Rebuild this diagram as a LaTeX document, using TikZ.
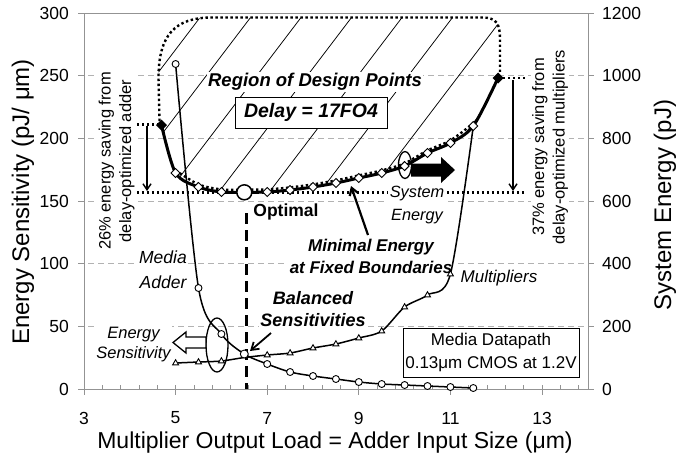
\documentclass[tikz,border=0pt]{standalone}
\usepackage{fontspec}
\setmainfont{Liberation Sans}
\usetikzlibrary{arrows.meta}
\begin{document}
\begin{tikzpicture}[x=1pt,y=-1pt,
  gridline/.style={draw=gray!60, line width=0.8pt, dash pattern=on 6pt off 4pt},
  axisline/.style={draw=gray!85, line width=0.8pt},
  dotln/.style={line width=2.4pt, dash pattern=on 2.4pt off 2.6pt},
  hatchln/.style={line width=0.75pt},
  ticklab/.style={font=\fontsize{17.5}{20}\selectfont, inner sep=0pt},
  axtitle/.style={font=\fontsize{23}{26}\selectfont, inner sep=0pt},
  lbl/.style={fill=white, inner sep=1.5pt, align=center},
  thinarrow/.style={line width=1.4pt, -{Straight Barb[length=6pt,width=8pt]}},
  adderln/.style={line width=1.5pt},
  sysln/.style={line width=3pt},
  mk/.style={fill=white, draw=black, line width=0.9pt},
]
\fill[white] (0,0) rectangle (695,459);
\useasboundingbox (0,0) rectangle (695,459);

% grid and axes
\foreach \v in {50,100,150,200,250}
  \draw[gridline] (78,{389-1.2533*\v}) -- (593,{389-1.2533*\v});
\draw[axisline] (78,13) -- (594,13);
\draw[axisline] (84,13) -- (84,389);
\draw[axisline] (588,13) -- (588,389);
\draw[axisline] (78,389) -- (588,389);
\foreach \v in {0,50,...,300} {
  \draw[axisline] (78,{389-1.2533*\v}) -- (84,{389-1.2533*\v});
  \draw[axisline] (588,{389-1.2533*\v}) -- (594,{389-1.2533*\v});
}
\foreach \i in {1,...,27}
  \draw[axisline] ({84+18.32*\i},385) -- ({84+18.32*\i},389);
\foreach \i in {0,5,...,25}
  \draw[axisline] ({84+18.32*\i},385) -- ({84+18.32*\i},395);

% tick labels
\foreach \v in {0,50,...,300}
  \node[ticklab, anchor=east] (yl\v) at (69,{389-1.2533*\v}) {\v};
\foreach \v [evaluate=\v as \pv using {389-1.2533*\v/4}] in {0,200,...,1200}
  \node[ticklab, anchor=west] (yr\v) at (602,\pv) {\v};
\foreach \x in {3,5,...,13}
  \node[ticklab] (xl\x) at ({84+45.8*(\x-3)},418) {\x};

% axis titles
\node[axtitle] (xtitle) at (335,443) {Multiplier Output Load = Adder Input Size (μm)};
\node[axtitle, font=\fontsize{24}{26}\selectfont, rotate=90] (yltitle) at (23,202) {Energy Sensitivity (pJ/ μm)};
\node[axtitle, font=\fontsize{24}{26}\selectfont, rotate=90] (yrtitle) at (665,205) {System Energy (pJ)};

% hatched region
\begin{scope}
\clip (161.5,125) -- (159,118) -- (158.5,78) .. controls (158.5,35) and (175,17.5) .. (212,17.5)
  -- (482,17.5) .. controls (497,17.5) and (500,24) .. (500,40) -- (500,74) -- (498,78)
  -- plot[smooth, tension=0.5] coordinates {(498,78) (473.3,126) (450.4,143) (427.5,153) (404.6,166)
     (381.7,173) (358.8,178) (335.9,183) (313,187) (290.1,190) (267.2,192) (244.3,192.3)
     (221.4,192) (198.5,187) (175.6,173) (161.5,125)} -- cycle;
\foreach \k in {0,...,7}
  \draw[hatchln] ({200+50.5*\k+13.3},0) -- ({200+50.5*\k-138.7},200);
\end{scope}

% dotted boundary and level lines
\draw[dotln] (159.5,121) -- (158.5,78) .. controls (158.5,35) and (175,17.5) .. (212,17.5)
  -- (482,17.5) .. controls (497,17.5) and (500,24) .. (500,40) -- (500,74);
\draw[dotln, yshift=2.6pt] plot[smooth, tension=0.5] coordinates {(175.6,173) (198.5,187)
  (221.4,192) (244.3,192.3) (267.2,192) (290.1,190) (313,187) (335.9,183) (358.8,178)
  (381.7,173) (404.6,166) (427.5,153) (450.4,143) (473.3,126)};
\draw[dotln] (137,192.3) -- (526,192.3);
\draw[dotln] (137,124.5) -- (161,124.5);
\draw[dotln] (498,78) -- (526,78);

% text labels
\node[lbl, font=\fontsize{18.5}{21}\selectfont\bfseries\itshape] (region) at (315,82) {Region of Design Points};
\node[draw, fill=white, line width=1pt, font=\fontsize{19.5}{22}\selectfont\bfseries\itshape,
  minimum width=152pt, minimum height=31pt, inner sep=0pt] (delay) at (311,112.5) {Delay = 17FO4};
\node[lbl, font=\fontsize{17.5}{20}\selectfont\bfseries] (optimal) at (286,212) {Optimal};
\node[lbl, font=\fontsize{16.3}{23}\selectfont\itshape] (sysE) at (417,204.5) {System\\Energy};
\node[lbl, font=\fontsize{17}{22}\selectfont\bfseries\itshape] (minE) at (371,256) {Minimal Energy\\at Fixed Boundaries};
\node[lbl, font=\fontsize{18}{22}\selectfont\bfseries\itshape] (bal) at (313,309) {Balanced\\Sensitivities};
\node[lbl, font=\fontsize{17.5}{25}\selectfont\itshape] (madder) at (163,269.5) {Media\\Adder};
\node[lbl, font=\fontsize{16.5}{20}\selectfont\itshape] (esens) at (133.5,345) {Energy\\Sensitivity};
\node[lbl, font=\fontsize{17}{20}\selectfont\itshape] (mult) at (499,278) {Multipliers};
\node[draw, fill=white, line width=1pt, font=\fontsize{17}{23}\selectfont, align=center,
  minimum width=176pt, minimum height=49pt, inner sep=0pt] (legend) at (491,352.5)
  {Media Datapath\\0.13μm CMOS at 1.2V};
\node[lbl, rotate=90, font=\fontsize{16.5}{20.5}\selectfont] (saveL) at (116.5,161)
  {26\% energy saving from\\delay-optimized adder};
\node[lbl, rotate=90, font=\fontsize{16.5}{20.5}\selectfont] (saveR) at (550,147)
  {37\% energy saving from\\delay-optimized multipliers};

% optimal dashed line
\draw[line width=3pt, dash pattern=on 11pt off 6pt] (246,213) -- (246,389);

% curves
\draw[adderln] plot[smooth, tension=0.5] coordinates {(175.6,64) (198.5,288) (221.4,334)
  (244.3,354) (267.2,364) (290.1,372) (313,376) (335.9,379) (358.8,382) (381.7,384)
  (404.6,385) (427.5,386) (450.4,387) (473.3,388)};
\draw[adderln] plot[smooth, tension=0.5] coordinates {(175.6,363) (198.5,362) (221.4,361)
  (244.3,357.5) (267.2,355) (290.1,353) (313,348) (335.9,344) (358.8,338) (381.7,331)
  (404.6,307) (427.5,295) (450.4,274) (473.3,126)};
\draw[sysln] plot[smooth, tension=0.5] coordinates {(161.5,125) (175.6,173) (198.5,187)
  (221.4,192) (244.3,192.3) (267.2,192) (290.1,190) (313,187) (335.9,183) (358.8,178)
  (381.7,173) (404.6,166) (427.5,153) (450.4,143) (473.3,126) (498,78)};

% markers
\foreach \px/\py in {175.6/363, 198.5/362, 221.4/361, 267.2/355, 290.1/353, 313/348,
  335.9/344, 358.8/338, 381.7/331, 404.6/307, 427.5/295, 450.4/274}
  \draw[mk] (\px,\py) ++(0,-3.3) -- ++(3,5.2) -- ++(-6,0) -- cycle;
\foreach \px/\py in {175.6/64, 198.5/288, 221.4/334, 267.2/364, 290.1/372, 313/376,
  335.9/379, 358.8/382, 381.7/384, 404.6/385, 427.5/386, 450.4/387, 473.3/388}
  \draw[mk] (\px,\py) circle[radius=3.5pt];
\draw[mk] (244.3,354) circle[radius=4pt];
\foreach \px/\py in {175.6/173, 198.5/187, 221.4/192, 267.2/192, 290.1/190, 313/187,
  335.9/183, 358.8/178, 381.7/173, 404.6/166, 427.5/153, 450.4/143, 473.3/126}
  \draw[mk] (\px,\py) ++(-4.5,0) -- ++(4.5,-4.5) -- ++(4.5,4.5) -- ++(-4.5,4.5) -- cycle;
\foreach \px/\py in {161.5/125, 498/78}
  \fill (\px,\py) ++(-5.5,0) -- ++(5.5,-5.5) -- ++(5.5,5.5) -- ++(-5.5,5.5) -- cycle;
\draw[mk, line width=1.5pt] (244.3,192.3) circle[radius=7.5pt];

% ellipses and block arrows
\draw[line width=1.3pt] (217,345) ellipse[x radius=11pt, y radius=27pt];
\draw[line width=1.3pt] (405,165) ellipse[x radius=6.5pt, y radius=13.5pt];
\fill (411,163.5) -- (441,163.5) -- (441,157) -- (455,170) -- (441,183) -- (441,176.5) -- (411,176.5) -- cycle;
\draw[fill=white, line width=1.3pt] (206,337) -- (186,337) -- (186,332) -- (173,342.5)
  -- (186,353) -- (186,348) -- (206,348) -- cycle;

% arrows
\coordinate (aLs) at (147,126);
\coordinate (aLe) at (147,191);
\coordinate (aRs) at (513,80);
\coordinate (aRe) at (513,191);
\coordinate (minTip) at (351,186);
\coordinate (balTip) at (250,351);
\draw[thinarrow] (aLs) -- (aLe);
\draw[thinarrow] (aRs) -- (aRe);
\draw[line width=2.2pt, -{Straight Barb[length=7pt,width=9pt]}] (368,235) -- (minTip);
\draw[line width=1.8pt, -{Straight Barb[length=7pt,width=9pt]}] (271,333) -- (balTip);
\end{tikzpicture}
\end{document}
